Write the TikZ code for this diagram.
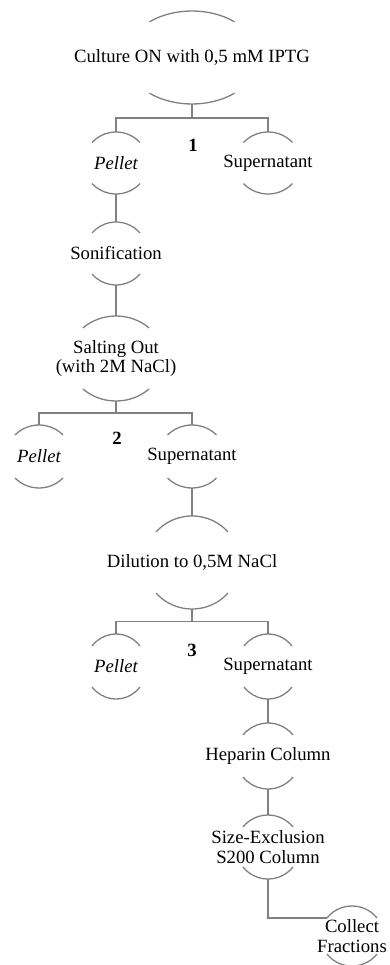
\documentclass[tikz,border=0pt]{standalone}
\usepackage{fontspec}
\setmainfont{Liberation Serif}
\usetikzlibrary{calc}
\definecolor{linegray}{RGB}{128,128,128}
\newcommand\mkarcs[4]{% name, b, w, e
  \pgfmathsetmacro\arcth{asin(#4/#2)}%
  \pgfmathsetmacro\arcra{#3/cos(\arcth)}%
  \draw[arcline] (#1.center) ++(\arcth:\arcra pt and #2 pt)
     arc[start angle=\arcth, end angle=180-\arcth, x radius=\arcra pt, y radius=#2 pt];
  \draw[arcline] (#1.center) ++(-\arcth:\arcra pt and #2 pt)
     arc[start angle=-\arcth, end angle=-180+\arcth, x radius=\arcra pt, y radius=#2 pt];
}
\begin{document}
\begin{tikzpicture}[x=1pt,y=1pt,
  every node/.style={font=\fontsize{18.7}{19.5}\selectfont},
  stepbox/.style={shape=rectangle, inner sep=0pt, align=center, minimum height=#1},
  arcline/.style={draw=linegray, line width=1.3pt},
  conn/.style={draw=linegray, line width=1.3pt},
  numlabel/.style={font=\fontsize{18.7}{19.5}\selectfont\bfseries, inner sep=0pt}]
\useasboundingbox (0,0) rectangle (390,-965);

\node[stepbox=93pt] (cult) at (192,-57.5) {Culture ON with 0,5 mM IPTG};
\node[stepbox=62pt] (pel1) at (116,-163) {\itshape Pellet};
\node[stepbox=62pt] (sup1) at (268,-163) {Supernatant};
\node[stepbox=63pt] (son) at (116,-253.5) {Sonification};
\node[stepbox=85pt] (salt) at (116,-358.5) {Salting Out\\(with 2M NaCl)};
\node[stepbox=63pt] (pel2) at (39,-456.5) {\itshape Pellet};
\node[stepbox=63pt] (sup2) at (192,-456.5) {Supernatant};
\node[stepbox=93pt] (dil) at (192,-562.5) {Dilution to 0,5M NaCl};
\node[stepbox=65pt] (pel3) at (116,-666.5) {\itshape Pellet};
\node[stepbox=65pt] (sup3) at (268,-666.5) {Supernatant};
\node[stepbox=66pt] (hep) at (268,-756) {Heparin Column};
\node[stepbox=64pt] (sec) at (268,-847) {Size-Exclusion\\S200 Column};
\node[stepbox=60pt] (col) at (352,-936) {Collect\\Fractions};

\node[numlabel] (l1) at (193,-145) {1};
\node[numlabel] (l2) at (117,-438) {2};
\node[numlabel] (l3) at (192,-650) {3};

\mkarcs{cult}{46.5}{42.5}{35.7}
\mkarcs{pel1}{31}{24}{20.5}
\mkarcs{sup1}{31}{24.5}{20.5}
\mkarcs{son}{31.5}{24}{20.5}
\mkarcs{salt}{42.5}{33}{30.5}
\mkarcs{pel2}{31.5}{24}{21.5}
\mkarcs{sup2}{31.5}{24.5}{21.5}
\mkarcs{dil}{46.5}{36}{30.5}
\mkarcs{pel3}{32.5}{24}{20.5}
\mkarcs{sup3}{32.5}{24}{20.5}
\mkarcs{hep}{33}{25}{21}
\mkarcs{sec}{32}{25}{20}
\mkarcs{col}{30}{25}{18}

\coordinate (j1) at ($(cult.south)!0.5!(cult.south|-pel1.north)$);
\coordinate (j2) at ($(salt.south)!0.5!(salt.south|-pel2.north)$);
\coordinate (j3) at ($(dil.south)!0.5!(dil.south|-pel3.north)$);
\coordinate (colin) at ($(col.center)+(-25,18)$);

\draw[conn] (cult.south) -- (j1);
\draw[conn] (pel1.north) |- (j1) -| (sup1.north);
\draw[conn] (pel1.south) -- (son.north);
\draw[conn] (son.south) -- (salt.north);
\draw[conn] (salt.south) -- (j2);
\draw[conn] (pel2.north) |- (j2) -| (sup2.north);
\draw[conn] (sup2.south) -- (dil.north);
\draw[conn] (dil.south) -- (j3);
\draw[conn] (pel3.north) |- (j3) -| (sup3.north);
\draw[conn] (sup3.south) -- (hep.north);
\draw[conn] (hep.south) -- (sec.north);
\draw[conn] (sec.south) |- (colin);
\end{tikzpicture}
\end{document}
